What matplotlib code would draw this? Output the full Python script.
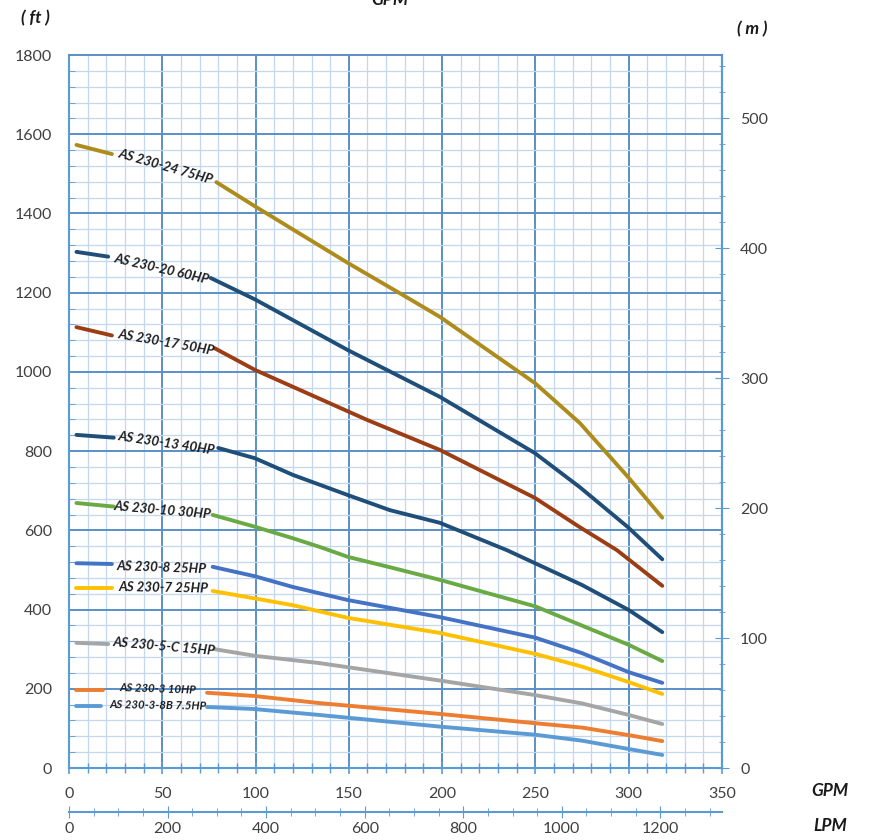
import numpy as np
import matplotlib
matplotlib.use("Agg")
from matplotlib import pyplot as plt
from matplotlib.ticker import MultipleLocator

plt.rcParams["font.family"] = ["Lato", "DejaVu Sans"]

# pump curves, flow in GPM and head in ft
# the first two points come before the label, the rest after it
names = ["AS 230-24 75HP", "AS 230-20 60HP", "AS 230-17 50HP", "AS 230-13 40HP",
         "AS 230-10 30HP", "AS 230-8 25HP", "AS 230-7 25HP", "AS 230-5-C 15HP",
         "AS 230-3 10HP", "AS 230-3-8B 7.5HP"]

gpm_24 = [4, 23, 79, 99.7, 149.5, 179, 198.8, 249.7, 273.8, 299.6, 318]
ft_24 = [1573, 1550, 1479, 1418, 1275, 1194, 1139, 972, 871, 735, 632]
gpm_20 = [4, 21, 76, 99.7, 149.5, 198.8, 249.7, 273.8, 299.6, 318]
ft_20 = [1303, 1291, 1237, 1183, 1055, 937, 795, 709, 608, 527]
gpm_17 = [4, 23, 78, 99.7, 159.7, 198.8, 249.7, 273.8, 293.7, 318]
ft_17 = [1113, 1092, 1060, 1005, 879, 803, 682, 608, 550, 460]
gpm_13 = [4, 24, 80, 99.7, 120, 149.5, 172, 198.8, 234.7, 275, 300, 318]
ft_13 = [841, 834, 808, 782, 740, 689, 651, 619, 550, 462, 399, 343]
gpm_10 = [4, 24, 77, 99.7, 120, 134.5, 149.5, 173.6, 198.8, 250, 300, 318]
ft_10 = [669, 660, 639, 609, 580, 558, 533, 505, 475, 408, 311, 270]
gpm_8 = [4, 23, 77, 99.7, 120, 149.5, 198.8, 250, 275, 300, 318]
ft_8 = [517, 515, 508, 484, 457, 424, 381, 329, 290, 242, 215]
gpm_7 = [4, 23, 77, 99.7, 120, 149.5, 198.8, 250, 275, 300, 318]
ft_7 = [454, 454, 447, 428, 411, 379, 341, 288, 256, 217, 187]
gpm_5c = [4, 21, 78, 100, 134, 200, 250, 275, 300, 318]
ft_5c = [316, 313, 300, 283, 265, 220, 184, 163, 134, 111]
gpm_3 = [4, 18, 74, 99, 134, 200, 250, 275, 300, 318]
ft_3 = [198, 198, 190, 182, 164, 136, 113, 102, 83, 68]
gpm_3b = [4, 17, 74, 99, 134, 200, 250, 275, 300, 318]
ft_3b = [157, 157, 154, 149, 134, 104, 84, 69, 48, 33]

flows = [gpm_24, gpm_20, gpm_17, gpm_13, gpm_10, gpm_8, gpm_7, gpm_5c, gpm_3, gpm_3b]
heads = [ft_24, ft_20, ft_17, ft_13, ft_10, ft_8, ft_7, ft_5c, ft_3, ft_3b]

colors = ["#ae8c1c", "#1f4e79", "#9c3d14", "#1f4e79", "#6aaa44",
          "#4472c4", "#ffc000", "#a5a5a5", "#ed7d31", "#5b9bd5"]
# label centre (GPM, ft), rotation and size
label_xy = [(51.5, 1518), (49.8, 1261), (51.9, 1074), (52.4, 821), (50.3, 651),
            (49.8, 507), (50.8, 454), (50.8, 306), (47.5, 199), (48, 157)]
label_rot = [-16, -13, -10, -8.5, -5, -2, -1, -5, -2, -1]
label_size = [9.6, 9.6, 9.6, 9.6, 9.6, 9.6, 9.6, 9.6, 8.2, 8.2]

FT_PER_M = 3.2808
LPM_PER_GPM = 3.7854

fig = plt.figure(figsize=(8.69, 8.40), dpi=100)
ax = fig.add_axes([0.0794, 0.0857, 0.7514, 0.8488])

ax.set_xlim(0, 350)
ax.set_ylim(0, 1800)
ax.xaxis.set_major_locator(MultipleLocator(50))
ax.xaxis.set_minor_locator(MultipleLocator(10))
ax.yaxis.set_major_locator(MultipleLocator(200))
ax.yaxis.set_minor_locator(MultipleLocator(40))
ax.grid(which="minor", color="#c3d7ee", lw=0.9)
ax.grid(which="major", color="#5b8fc8", lw=1.4)
ax.set_axisbelow(True)

axis_blue = "#5b9bd5"
for side in ["left", "bottom", "right"]:
    ax.spines[side].set_color(axis_blue)
    ax.spines[side].set_linewidth(1.5)
ax.spines["top"].set_color("#5b8fc8")
ax.spines["top"].set_linewidth(1.4)

ax.tick_params(axis="x", which="both", direction="inout", colors=axis_blue,
               labelcolor="#404040", labelsize=11.5, pad=9)
ax.tick_params(axis="x", which="major", length=9, width=1.2)
ax.tick_params(axis="x", which="minor", length=7, width=1)
ax.tick_params(axis="y", which="major", length=0, labelcolor="#404040",
               labelsize=11.5, pad=12)
ax.tick_params(axis="y", which="minor", direction="in", length=4,
               colors=axis_blue)

for i in range(len(names)):
    x = flows[i]
    y = heads[i]
    ax.plot(x[:2], y[:2], color=colors[i], lw=2.8, solid_capstyle="round")
    ax.plot(x[2:], y[2:], color=colors[i], lw=2.8, solid_capstyle="round",
            solid_joinstyle="round")
    ax.text(label_xy[i][0], label_xy[i][1], names[i], rotation=label_rot[i],
            rotation_mode="anchor", ha="center", va="center",
            fontsize=label_size[i], fontweight="bold", fontstyle="italic",
            color="#1e1e1e")

# metres on the right
sec_y = ax.secondary_yaxis("right", functions=(lambda f: f / FT_PER_M,
                                               lambda m: m * FT_PER_M))
sec_y.yaxis.set_major_locator(MultipleLocator(100))
sec_y.yaxis.set_minor_locator(MultipleLocator(20))
sec_y.spines["right"].set_color(axis_blue)
sec_y.spines["right"].set_linewidth(1.5)
sec_y.tick_params(which="both", direction="inout", colors=axis_blue,
                  labelcolor="#404040", labelsize=11.5)
sec_y.tick_params(which="major", length=10, pad=8)
sec_y.tick_params(which="minor", length=5)

# litres per minute below
sec_x = ax.secondary_xaxis(-0.0617, functions=(lambda g: g * LPM_PER_GPM,
                                               lambda l: l / LPM_PER_GPM))
sec_x.set_xticks([0, 200, 400, 600, 800, 1000, 1200])
sec_x.xaxis.set_minor_locator(MultipleLocator(50))
sec_x.spines["bottom"].set_color(axis_blue)
sec_x.spines["bottom"].set_linewidth(1.5)
sec_x.tick_params(which="both", direction="inout", colors=axis_blue,
                  labelcolor="#404040", labelsize=11.5)
sec_x.tick_params(which="major", length=9, pad=3)
sec_x.tick_params(which="minor", length=6)

unit_kw = dict(fontsize=12.5, fontweight="bold", fontstyle="italic", color="#1a1a1a")
fig.text(35 / 869, 1 - 18 / 840, "( ft )", ha="center", va="center", **unit_kw)
fig.text(752 / 869, 1 - 29 / 840, "( m )", ha="center", va="center", **unit_kw)
fig.text(830 / 869, 1 - 791 / 840, "GPM", ha="center", va="center", **unit_kw)
fig.text(830 / 869, 1 - 826 / 840, "LPM", ha="center", va="center", **unit_kw)
fig.text(390 / 869, 1.0, "GPM", ha="center", va="center", **unit_kw)

fig.savefig("out.png", dpi=100)
